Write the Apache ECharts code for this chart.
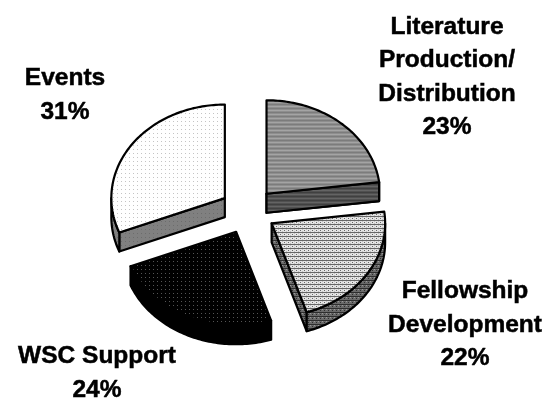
<!DOCTYPE html>
<html>
<head>
<meta charset="utf-8">
<style>html,body{margin:0;padding:0;background:#fff}#c{width:547px;height:400px}</style>
<script src="https://cdn.jsdelivr.net/npm/echarts@6/dist/echarts.min.js"></script>
</head>
<body>
<div id="c"></div>
<script>
const categories = ['Literature\nProduction/\nDistribution', 'Fellowship\nDevelopment', 'WSC Support', 'Events'];
const shares = [23, 22, 24, 31];

const labelAnchors = [[447, 77], [465, 325], [97, 373], [65, 95]];
const CX = 248, CY = 211, RX = 113.5, RY = 93.5, DEPTH = 19, EXPLODE = 28, SQUASH = 0.82;

function tile(size, bg, paint) {
  const c = document.createElement('canvas');
  c.width = size[0]; c.height = size[1];
  const x = c.getContext('2d');
  x.fillStyle = bg; x.fillRect(0, 0, size[0], size[1]);
  paint(x);
  return { image: c, repeat: 'repeat' };
}
function px(x, col, cells) { x.fillStyle = col; cells.forEach(p => x.fillRect(p[0], p[1], p[2] || 1, p[3] || 1)); }
const topFills = [
  tile([4, 4], '#8e8e8e', x => { px(x, '#7c7c7c', [[0, 0, 4, 1]]); px(x, '#a4a4a4', [[0, 2, 4, 1]]); }),
  tile([4, 4], '#e4e4e4', x => { px(x, '#666666', [[0, 0, 4, 1], [0, 2, 1, 1]]); px(x, '#c0c0c0', [[2, 1, 1, 1], [2, 3, 1, 1]]); }),
  tile([4, 4], '#000000', x => { px(x, '#555555', [[1, 1]]); }),
  tile([4, 4], '#ffffff', x => { px(x, '#c4c4c4', [[1, 1]]); })
];
const sideFills = [
  tile([4, 4], '#505050', x => { px(x, '#404040', [[0, 0, 4, 1]]); px(x, '#646464', [[0, 2, 4, 1]]); }),
  tile([4, 4], '#6a6a6a', x => { px(x, '#2e2e2e', [[0, 0, 4, 1], [0, 2, 1, 1]]); px(x, '#9a9a9a', [[2, 1]]); }),
  tile([4, 4], '#000000', x => {}),
  tile([4, 4], '#808080', x => { px(x, '#6c6c6c', [[1, 1]]); })
];

const total = shares.reduce((a, b) => a + b, 0);
const startFrac = [];
shares.reduce((acc, v, i) => { startFrac[i] = acc / total; return acc + v; }, 0);

function renderItem(params, api) {
  const i = params.dataIndex;
  const share = api.value(0);
  const a0 = startFrac[i] * 2 * Math.PI;
  const a1 = a0 + (share / total) * 2 * Math.PI;
  const mid = (a0 + a1) / 2;
  const cx = CX + EXPLODE * Math.sin(mid);
  const cy = CY - EXPLODE * SQUASH * Math.cos(mid);
  const pt = (a, dz) => [cx + RX * Math.sin(a), cy - RY * Math.cos(a) + (dz || 0)];
  const arc = (s, e, dz) => {
    const out = [], n = Math.max(4, Math.ceil(Math.abs(e - s) / 0.02));
    for (let k = 0; k <= n; k++) out.push(pt(s + (e - s) * k / n, dz));
    return out;
  };
  const apex = [cx, cy], apexLow = [cx, cy + DEPTH];
  const stroke = { stroke: '#000', lineWidth: 2.2, lineJoin: 'round' };
  const style = f => Object.assign({ fill: f }, stroke);
  const kids = [];
  const poly = (points, f) => kids.push({ type: 'polygon', shape: { points }, style: style(f) });

  const p0 = pt(a0), p1 = pt(a1);
  if (Math.cos(a1) < 0.2 && Math.sin(a1) > 0) {
    poly([apex, p1, [p1[0], p1[1] + DEPTH], apexLow], sideFills[i]);
  }
  if (Math.sin(a0) < 0 || Math.cos(a1) > 0 && Math.sin(a1) > 0) {
    const e = Math.sin(a0) < 0 ? p0 : p1;
    poly([apex, e, [e[0], e[1] + DEPTH], apexLow], sideFills[i]);
  }
  const w0 = Math.max(a0, Math.PI / 2), w1 = Math.min(a1, 3 * Math.PI / 2);
  if (w1 > w0) poly(arc(w0, w1, 0).concat(arc(w1, w0, DEPTH)), sideFills[i]);
  poly([apex].concat(arc(a0, a1, 0)), topFills[i]);
  kids.push({
    type: 'text',
    x: labelAnchors[i][0], y: labelAnchors[i][1],
    style: {
      text: api.value(1) + '\n' + share + '%',
      fill: '#000', align: 'center', verticalAlign: 'middle',
      stroke: '#000', lineWidth: 0.5,
      font: 'bold 24.5px "Liberation Sans", Arial, sans-serif', lineHeight: 33.5
    }
  });
  return { type: 'group', children: kids };
}

const chart = echarts.init(document.getElementById('c'), null, { renderer: 'canvas' });
chart.setOption({
  animation: false,
  backgroundColor: '#fff',
  series: [{
    type: 'custom',
    coordinateSystem: 'none',
    renderItem,
    silent: true,
    dimensions: ['share', 'name'],
    encode: { value: 0 },
    data: shares.map((v, i) => [v, categories[i]])
  }]
});
</script>
</body>
</html>
